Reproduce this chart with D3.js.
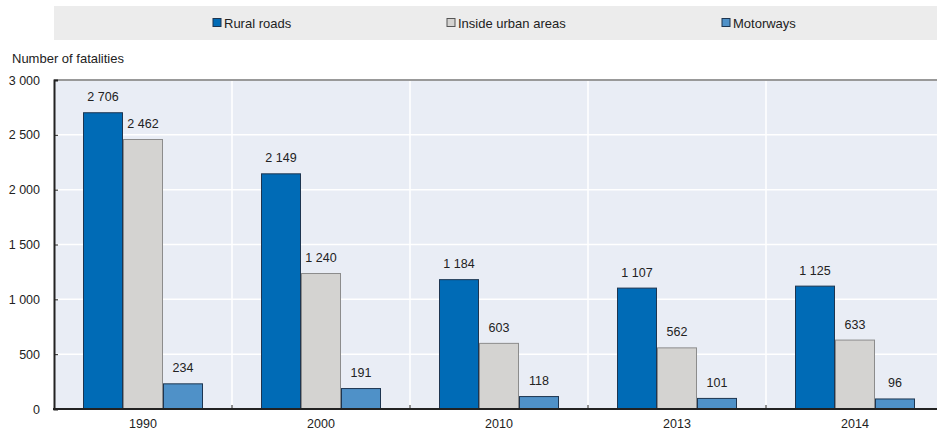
<!DOCTYPE html>
<html><head><meta charset="utf-8">
<script src="https://cdn.jsdelivr.net/npm/d3@7"></script>
<style>
body{margin:0;background:#fff;}
text{font-family:"Liberation Sans Narrow","Arial Narrow","Liberation Sans",Arial,sans-serif;fill:#222;}
</style></head><body>
<svg id="c" width="937" height="434"></svg>
<script>
const categories = ["1990","2000","2010","2013","2014"];
const seriesNames = ["Rural roads","Inside urban areas","Motorways"];
const rural = [2706,2149,1184,1107,1125];
const urban = [2462,1240,603,562,633];
const motorways = [234,191,118,101,96];
const yTicks = [0,500,1000,1500,2000,2500,3000];

const colors = ["#006bb6","#d4d3d1","#4f91c8"];
const strokes = ["#1d3550","#8c8c8c","#1d3550"];
const series = [rural, urban, motorways];

const svg = d3.select("#c");
const L=54, R=944, T=80, B=409;
const x = d3.scaleBand().domain(categories).range([L,R]).paddingInner(0).paddingOuter(0);
const xs = d3.scaleBand().domain(seriesNames).range([0,x.bandwidth()]).paddingOuter(0.725).paddingInner(0);
const y = d3.scaleLinear().domain([0,3000]).range([B,T]);
const fmt = v => d3.format(",")(v).replace(/,/g," ");

// legend
svg.append("rect").attr("x",54).attr("y",6).attr("width",883).attr("height",34).attr("fill","#ececec");
const legX = [213,447,722];
seriesNames.forEach((n,i)=>{
  svg.append("rect").attr("x",legX[i]).attr("y",18.5).attr("width",8).attr("height",8)
    .attr("fill",colors[i]).attr("stroke",i==1?"#555":"#1d3550").attr("stroke-width",1);
  svg.append("text").attr("x",legX[i]+11).attr("y",27.5).attr("font-size",13).text(n);
});

// axis title
svg.append("text").attr("x",12).attr("y",63).attr("font-size",13).text("Number of fatalities");

// plot bg
svg.append("rect").attr("x",L).attr("y",T).attr("width",R-L).attr("height",B-T).attr("fill","#e9edf5");
// horizontal grid
svg.selectAll(".hg").data(yTicks.filter(d=>d>0&&d<3000)).enter().append("line")
  .attr("x1",L).attr("x2",R).attr("y1",d=>y(d)).attr("y2",d=>y(d)).attr("stroke","#fff").attr("stroke-width",1.5);
// vertical grid
svg.selectAll(".vg").data(categories.slice(1)).enter().append("line")
  .attr("x1",d=>x(d)).attr("x2",d=>x(d)).attr("y1",T).attr("y2",B).attr("stroke","#fff").attr("stroke-width",1.5);
// top border
svg.append("line").attr("x1",L).attr("x2",937).attr("y1",T).attr("y2",T).attr("stroke","#999").attr("stroke-width",2);

// bars
categories.forEach((c,ci)=>{
  seriesNames.forEach((s,si)=>{
    const v = series[si][ci];
    const bx = x(c)+xs(s);
    svg.append("rect").attr("x",bx+0.5).attr("y",y(v)+0.5).attr("width",xs.bandwidth()-1).attr("height",B-y(v)-0.5)
      .attr("fill",colors[si]).attr("stroke",strokes[si]).attr("stroke-width",1);
    svg.append("text").attr("x",bx+xs.bandwidth()/2).attr("y",y(v)-11).attr("text-anchor","middle")
      .attr("font-size",12.5).text(fmt(v));
  });
});

// axes
const ya = d3.axisLeft(y).tickValues(yTicks).tickFormat(fmt).tickSize(-4).tickPadding(14);
const yg = svg.append("g").attr("transform",`translate(${L},0)`).call(ya);
yg.select(".domain").attr("stroke","#222").attr("stroke-width",2);
yg.selectAll(".tick line").attr("stroke","#222");
yg.selectAll(".tick text").attr("font-size",12.5).attr("fill","#222");

svg.append("line").attr("x1",L-1).attr("x2",937).attr("y1",B).attr("y2",B).attr("stroke","#222").attr("stroke-width",2);
svg.selectAll(".xt").data(categories.slice(1)).enter().append("line")
  .attr("x1",d=>x(d)).attr("x2",d=>x(d)).attr("y1",B).attr("y2",B-4).attr("stroke","#222").attr("stroke-width",1);
svg.selectAll(".xl").data(categories).enter().append("text")
  .attr("x",d=>x(d)+x.bandwidth()/2).attr("y",428).attr("text-anchor","middle").attr("font-size",12.5).text(d=>d);
</script></body></html>
